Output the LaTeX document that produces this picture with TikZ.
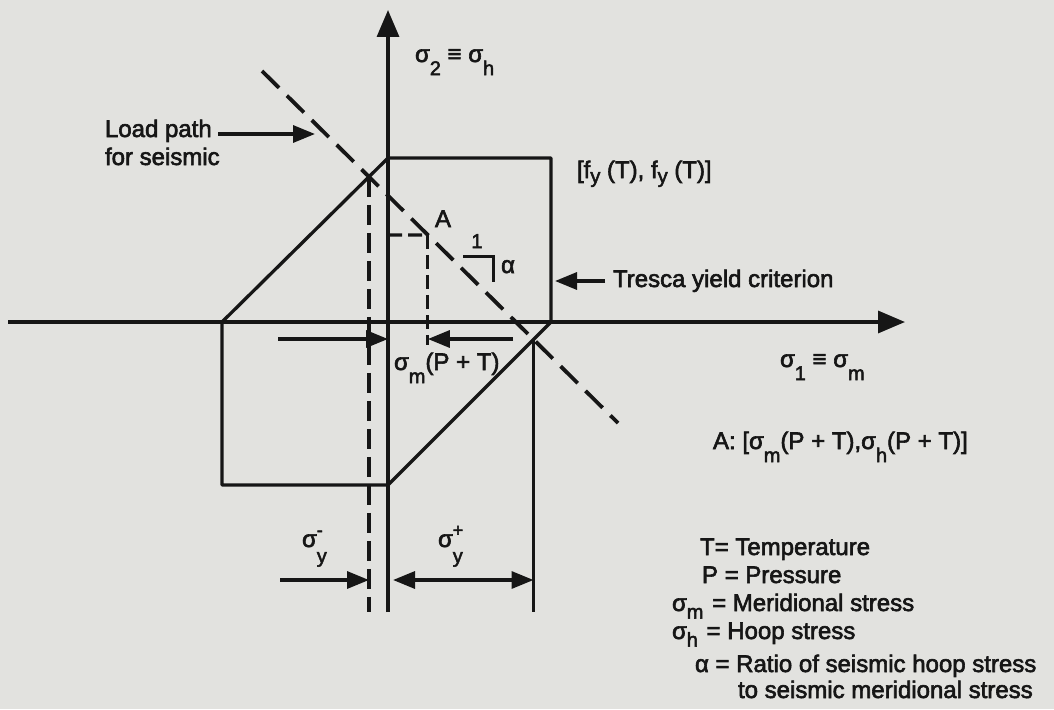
\documentclass[tikz,border=0pt]{standalone}
\usepackage{fontspec}
\setmainfont{Liberation Sans}[FakeBold=2.5]
\usetikzlibrary{arrows.meta}
\definecolor{bg}{RGB}{226,226,223}
\definecolor{ink}{RGB}{22,22,22}
\newcommand\sbs[1]{\raisebox{-0.55em}{\fontsize{20}{20}\selectfont #1}}
\newcommand\sbm[1]{\raisebox{-0.32em}{\fontsize{20}{20}\selectfont #1}}
\newcommand\sbl[1]{\raisebox{-0.2em}{\fontsize{20}{20}\selectfont #1}}
\newcommand\supsub[2]{\rlap{\raisebox{0.45em}{\fontsize{18}{18}\selectfont #1}}\raisebox{-0.65em}{\fontsize{20}{20}\selectfont #2}}
\begin{document}
\begin{tikzpicture}[x=1pt,y=-1pt,
  every node/.style={inner sep=0pt,outer sep=0pt,text=ink,font=\fontsize{24}{28}\selectfont},
  ln/.style={draw=ink,line width=3.3pt},
  dsh/.style={draw=ink,line width=3.8pt,dash pattern=on 24pt off 11pt},
  dshv/.style={draw=ink,line width=3.4pt,dash pattern=on 20pt off 8pt},
  dsha/.style={draw=ink,line width=3.1pt,dash pattern=on 14pt off 6pt},
  arr/.style={ln,-{Triangle[length=22pt,width=17pt]}},
  darr/.style={ln,{Triangle[length=22pt,width=17pt]}-{Triangle[length=22pt,width=17pt]}},
  axis/.style={ln,-{Triangle[length=27pt,width=22pt]}}]
\fill[bg] (0,0) rectangle (1054,709);
\useasboundingbox (0,0) rectangle (1054,709);
% axes
\coordinate (xs) at (8,322);
\coordinate (xe) at (905,322);
\coordinate (ys) at (388,612);
\coordinate (ye) at (388,10);
\draw[axis] (xs) -- (xe);
\draw[axis] (ys) -- (ye);
% Tresca hexagon
\coordinate (h1) at (222,322);
\coordinate (h2) at (388,158);
\coordinate (h3) at (551,158);
\coordinate (h4) at (551,322);
\coordinate (h5) at (388,485);
\coordinate (h6) at (222,485);
\draw[ln,line join=round] (h1) -- (h2) -- (h3) -- (h4) -- (h5) -- (h6) -- cycle;
% load path
\coordinate (l1) at (262,71);
\coordinate (l2) at (618,423);
\draw[dsh] (l1) -- (l2);
\coordinate (p1) at (intersection of l1--l2 and h1--h2);
\coordinate (p2) at (intersection of l1--l2 and h4--h5);
\coordinate (p1b) at (p1 |- ys);
\coordinate (p2b) at (p2 |- ys);
\draw[dshv] (p1) -- (p1b);
\draw[ln] (p2) -- (p2b);
% point A
\coordinate (ay) at (388,235);
\coordinate (ax) at (560,235);
\coordinate (A) at (intersection of l1--l2 and ay--ax);
\path (A) ++(0,110) coordinate (Ab);
\draw[dsha] (ay) -- (A);
\draw[dsha] (A) -- (Ab);
% sigma_m(P+T) dimension
\coordinate (dl) at (278,339);
\coordinate (dlt) at (388,339);
\coordinate (dr) at (513,339);
\coordinate (drt) at (A |- dr);
\draw[arr] (dl) -- (dlt);
\draw[arr] (dr) -- (drt);
% sigma_y dimensions
\coordinate (s1) at (280,580);
\coordinate (s1t) at (p1 |- s1);
\coordinate (s2l) at (393,580);
\coordinate (s2r) at (p2 |- s2l);
\draw[arr] (s1) -- (s1t);
\draw[darr] (s2l) -- (s2r);
% slope indicator
\coordinate (sa) at (463,256);
\coordinate (sb) at (493,256);
\coordinate (sc) at (493,282);
\draw[ln,line width=3pt] (sa) -- (sb) -- (sc);
% load path arrow
\coordinate (lpa) at (218,134);
\coordinate (lpt) at (315,134);
\draw[arr] (lpa) -- (lpt);
% Tresca arrow
\coordinate (tra) at (605,281);
\coordinate (trt) at (555,281);
\draw[arr] (tra) -- (trt);
% labels
\node[anchor=base west] (ylab) at (415,62) {σ\sbs{2} ≡ σ\sbs{h}};
\node[anchor=base west] (fy) at (577,178) {[f\sbl{y} (T), f\sbl{y} (T)]};
\node[anchor=base west] (lp1) at (105,137) {Load path};
\node[anchor=base west] (lp2) at (105,165) {for seismic};
\node[anchor=base west] (Alab) at (435,227) {A};
\node[anchor=base] (one) at (477,248) {\fontsize{20}{20}\selectfont 1};
\node[anchor=base] (alpha) at (508,273) {α};
\node[anchor=base west] (tr) at (613,287) {Tresca yield criterion};
\node[anchor=base west] (xlab) at (780,367) {σ\sbs{1} ≡ σ\sbs{m}};
\node[anchor=base west] (smpt) at (394,370) {σ\sbs{m}(P + T)};
\node[anchor=base west] (Adef) at (713,449) {A: [σ\sbs{m}(P + T),σ\sbs{h}(P + T)]};
\node[anchor=base west] (sym) at (302,547) {σ\supsub{-}{y}};
\node[anchor=base west] (syp) at (438,547) {σ\supsub{+}{y}};
% legend
\node[anchor=base west] (lg1) at (700,555) {T= Temperature};
\node[anchor=base west] (lg2) at (702,583) {P = Pressure};
\node[anchor=base west] (lg3) at (672,611) {σ\sbm{m}\hspace{2pt} = Meridional stress};
\node[anchor=base west] (lg4) at (672,639) {σ\sbm{h}\hspace{2pt} = Hoop stress};
\node[anchor=base west] (lg5) at (695,672) {α = Ratio of seismic hoop stress};
\node[anchor=base west] (lg6) at (738,698) {to seismic meridional stress};
\end{tikzpicture}
\end{document}
